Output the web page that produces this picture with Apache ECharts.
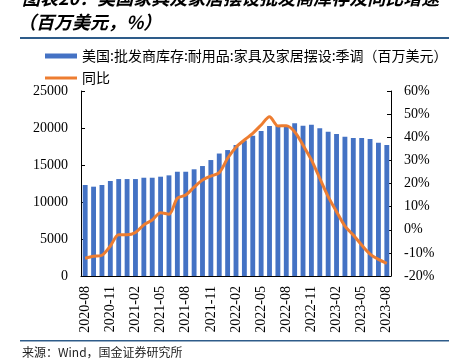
<!DOCTYPE html>
<html>
<head>
<meta charset="utf-8">
<script src="https://cdn.jsdelivr.net/npm/echarts@6/dist/echarts.min.js"></script>
<style>html,body{margin:0;padding:0;background:#fff;}#c{width:449px;height:362px;}</style>
</head>
<body>
<div id="c"></div>
<script>
var categories = ['2020-08','2020-09','2020-10','2020-11','2020-12','2021-01','2021-02','2021-03','2021-04','2021-05','2021-06','2021-07','2021-08','2021-09','2021-10','2021-11','2021-12','2022-01','2022-02','2022-03','2022-04','2022-05','2022-06','2022-07','2022-08','2022-09','2022-10','2022-11','2022-12','2023-01','2023-02','2023-03','2023-04','2023-05','2023-06','2023-07','2023-08'];
var inventory = [12300,12070,12300,12840,13100,13100,13100,13280,13280,13420,13600,14090,14090,14420,14860,15670,16550,17020,17700,18300,18960,19590,20270,20300,20400,20630,20300,20440,19960,19500,19190,18820,18650,18650,18510,18010,17700];
var yoy = [-12.3,-11.5,-11.0,-7.0,-2.2,-2.2,-1.2,2.1,4.2,7.4,6.7,13.6,15.0,18.4,21.5,23.2,24.7,30.9,35.7,38.8,41.7,45.3,48.9,44.9,45.0,42.4,36.6,30.2,22.2,14.3,7.8,1.6,-2.3,-6.6,-10.5,-12.8,-14.5];
var leftTicks = [0, 25000, 5000];
var rightTicks = [-20, 60, 10];
var barName = '美国:批发商库存:耐用品:家具及家居摆设:季调（百万美元）';
var lineName = '同比';

var chart = echarts.init(document.getElementById('c'), null, {renderer: 'canvas'});
var serif = '"Liberation Serif", "Times New Roman", serif';
var cjk = '"Noto Sans CJK SC", sans-serif';
chart.setOption({
  animation: false,
  backgroundColor: '#fff',
  grid: {left: 81, right: 58, top: 91, bottom: 86, containLabel: false},
  legend: [
    {data: [{name: barName, icon: 'rect'}], orient: 'vertical', left: 40, top: 44, itemWidth: 32, itemHeight: 5,
     textStyle: {fontFamily: cjk, fontSize: 14, color: '#000'}},
    {data: [{name: lineName, icon: 'rect'}], orient: 'vertical', left: 40, top: 66, itemWidth: 32, itemHeight: 3,
     textStyle: {fontFamily: cjk, fontSize: 14, color: '#000'}}
  ],
  xAxis: {
    type: 'category', data: categories, boundaryGap: true,
    axisLine: {lineStyle: {color: '#000', width: 1}},
    axisTick: {inside: true, length: 4, interval: 2, lineStyle: {color: '#000'}},
    axisLabel: {interval: 2, rotate: 90, margin: 10, fontFamily: serif, fontSize: 14, color: '#000'},
    splitLine: {show: false}
  },
  yAxis: [
    {type: 'value', min: leftTicks[0], max: leftTicks[1], interval: leftTicks[2], position: 'left',
     axisLine: {show: true, lineStyle: {color: '#000'}},
     axisTick: {show: true, inside: true, length: 4, lineStyle: {color: '#000'}},
     axisLabel: {margin: 13, fontFamily: serif, fontSize: 14, color: '#000', formatter: function (v) { return String(v); }},
     splitLine: {show: false}},
    {type: 'value', min: rightTicks[0], max: rightTicks[1], interval: rightTicks[2], position: 'right',
     axisLine: {show: true, lineStyle: {color: '#000'}},
     axisTick: {show: true, inside: true, length: 4, lineStyle: {color: '#000'}},
     axisLabel: {margin: 13, fontFamily: serif, fontSize: 14, color: '#000', formatter: '{value}%'},
     splitLine: {show: false}}
  ],
  series: [
    {name: barName, type: 'bar', data: inventory, barWidth: '58%', itemStyle: {color: '#4472C4'}, yAxisIndex: 0},
    {name: lineName, type: 'line', data: yoy, yAxisIndex: 1, smooth: 0.3, symbol: 'none',
     lineStyle: {color: '#ED7D31', width: 3}, itemStyle: {color: '#ED7D31'}}
  ],
  graphic: [
    {type: 'text', left: 22, top: -11, style: {text: '图表20：美国家具及家居摆设批发商库存及同比增速', fontFamily: cjk, fontSize: 18, fontWeight: 'bold', fontStyle: 'italic', fill: '#000'}},
    {type: 'text', left: 18, top: 13, style: {text: '（百万美元，%）', fontFamily: cjk, fontSize: 18, fontWeight: 'bold', fontStyle: 'italic', fill: '#000'}},
    {type: 'rect', shape: {x: 20, y: 37, width: 429, height: 2}, style: {fill: '#2E5C8A'}},
    {type: 'rect', shape: {x: 20, y: 340, width: 429, height: 1.5}, style: {fill: '#2E5C8A'}},
    {type: 'text', left: 22, top: 346, style: {text: '来源：Wind，国金证券研究所', fontFamily: cjk, fontSize: 12, fill: '#222'}}
  ]
});
</script>
</body>
</html>
